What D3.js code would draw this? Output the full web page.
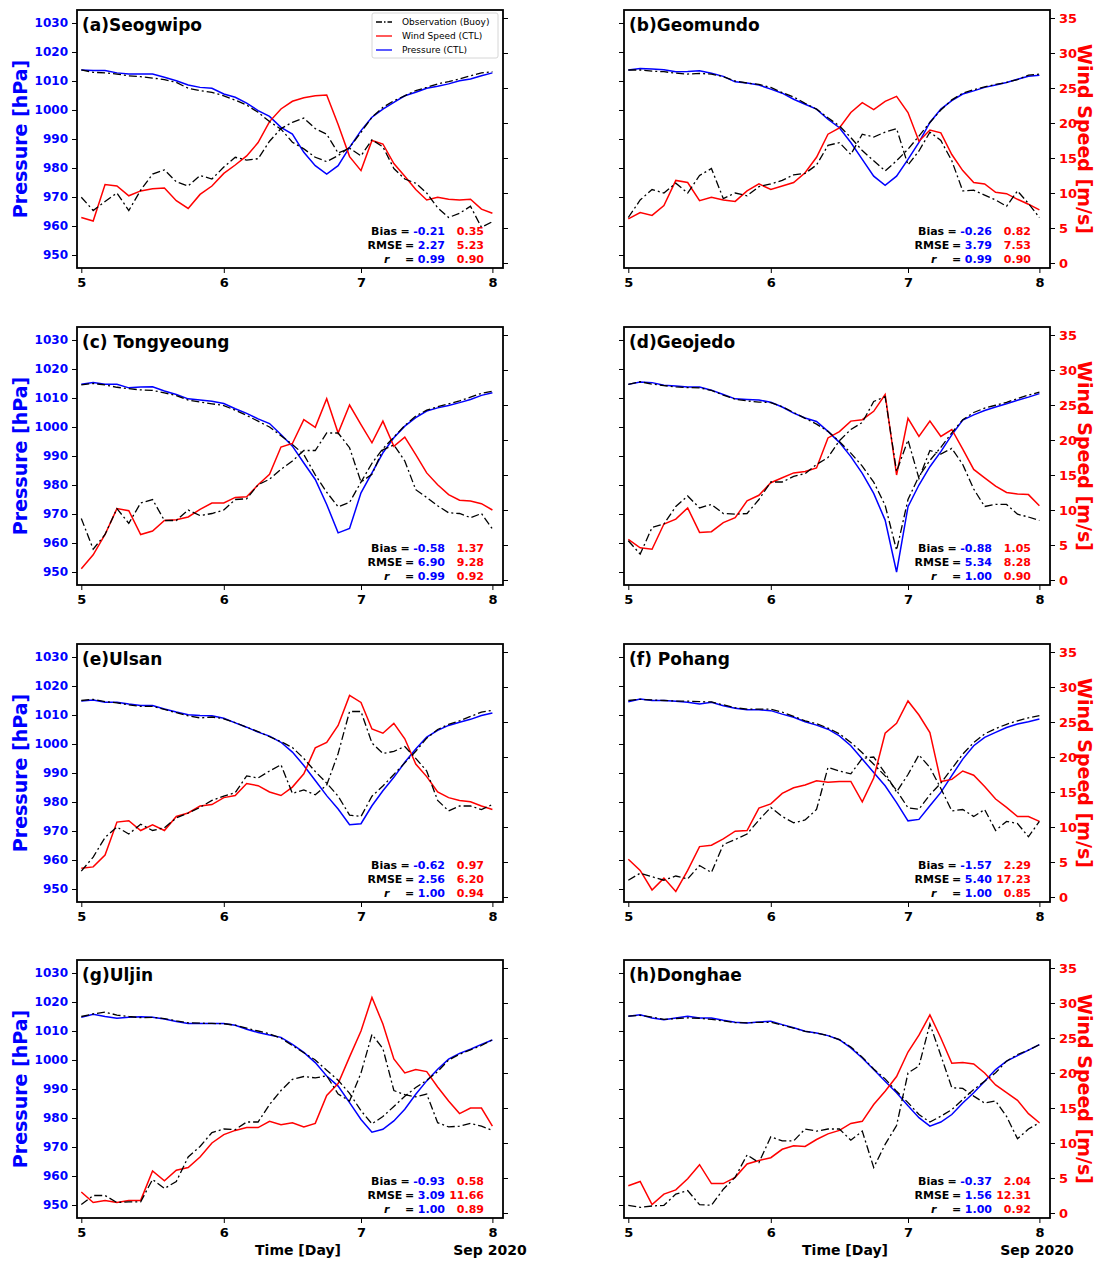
<!DOCTYPE html>
<html>
<head>
<meta charset="utf-8">
<script src="https://cdn.jsdelivr.net/npm/d3@7"></script>
<style>
  body { margin: 0; background: #fff; }
  svg { font-family: "DejaVu Sans", sans-serif; }
</style>
</head>
<body>
<svg id="chart" width="1106" height="1261"></svg>
<script>
// hours after 00 UTC 5 Sep 2020 (2-hourly samples)
const hours = [0, 2, 4, 6, 8, 10, 12, 14, 16, 18, 20, 22, 24, 26, 28, 30, 32, 34, 36,
  38, 40, 42, 44, 46, 48, 50, 52, 54, 56, 58, 60, 62, 64, 66, 68, 70, 72];

const stations = ["(a)Seogwipo", "(b)Geomundo", "(c) Tongyeoung", "(d)Geojedo",
  "(e)Ulsan", "(f) Pohang", "(g)Uljin", "(h)Donghae"];

const pressureTicks = [950, 960, 970, 980, 990, 1000, 1010, 1020, 1030];
const windTicks = [0, 5, 10, 15, 20, 25, 30, 35];
const dayTicks = [5, 6, 7, 8];

// model pressure (CTL), hPa
const pressureCTL = [
  [1013.8, 1013.6, 1013.6, 1012.8, 1012.4, 1012.4, 1012.4, 1011.3, 1010.1, 1008.6, 1007.8, 1007.5, 1005.5, 1004.4, 1002.4, 999.8, 997.8, 994.0, 991.7, 985.4, 980.8, 977.9, 980.8, 987.1, 992.9, 997.5, 1000.3, 1002.6, 1004.9, 1006.1, 1007.5, 1008.2, 1009.0, 1010.1, 1010.7, 1011.8, 1012.8],
  [1013.8, 1014.3, 1014.1, 1013.9, 1013.2, 1013.3, 1013.5, 1012.7, 1011.6, 1009.7, 1009.3, 1008.6, 1007.2, 1005.8, 1003.7, 1002.0, 1000.3, 996.8, 993.9, 988.8, 983.0, 977.2, 974.0, 977.2, 983.0, 988.8, 995.7, 1000.3, 1003.2, 1005.5, 1006.6, 1007.8, 1008.6, 1009.5, 1010.6, 1011.6, 1012.0],
  [1014.7, 1015.3, 1014.7, 1014.7, 1013.5, 1013.8, 1013.9, 1012.4, 1011.2, 1009.7, 1009.3, 1008.9, 1008.1, 1006.3, 1004.7, 1002.8, 1001.2, 997.4, 993.4, 987.6, 981.9, 973.3, 963.5, 965.0, 977.3, 984.2, 991.1, 996.3, 1000.3, 1003.2, 1005.5, 1006.6, 1007.4, 1008.4, 1009.5, 1010.9, 1011.8],
  [1014.7, 1015.5, 1015.3, 1014.4, 1014.1, 1013.8, 1013.8, 1012.7, 1011.2, 1009.7, 1009.5, 1009.3, 1008.5, 1006.9, 1004.8, 1003.1, 1001.9, 998.5, 994.7, 989.8, 984.0, 977.1, 967.9, 950.0, 972.5, 980.0, 986.3, 991.5, 997.3, 1002.4, 1004.2, 1005.7, 1006.9, 1008.0, 1009.2, 1010.3, 1011.5],
  [1014.8, 1015.2, 1014.4, 1014.4, 1013.8, 1013.3, 1013.3, 1012.1, 1011.0, 1010.1, 1009.8, 1009.7, 1008.9, 1007.3, 1005.8, 1004.1, 1002.7, 1000.6, 997.2, 992.6, 987.4, 982.2, 977.6, 972.2, 972.5, 978.7, 983.9, 988.5, 993.7, 998.3, 1002.4, 1004.7, 1006.4, 1007.5, 1008.5, 1009.8, 1010.7],
  [1014.6, 1015.5, 1015.0, 1015.0, 1014.7, 1014.4, 1013.8, 1014.4, 1013.2, 1012.3, 1011.8, 1011.8, 1011.5, 1010.3, 1009.2, 1007.7, 1006.5, 1005.1, 1002.8, 999.4, 994.8, 990.2, 985.6, 979.8, 973.5, 974.0, 978.7, 983.3, 989.1, 994.8, 999.4, 1002.3, 1004.0, 1005.7, 1006.9, 1007.7, 1008.6],
  [1014.7, 1015.8, 1015.0, 1014.4, 1014.7, 1014.9, 1014.7, 1014.1, 1013.3, 1012.6, 1012.6, 1012.6, 1012.6, 1012.0, 1010.6, 1009.5, 1008.6, 1007.8, 1005.4, 1002.6, 999.1, 994.5, 991.0, 985.3, 979.5, 975.1, 976.1, 979.0, 983.0, 988.2, 992.8, 996.8, 1000.3, 1002.3, 1003.7, 1005.4, 1006.9],
  [1015.1, 1015.6, 1014.5, 1013.9, 1014.5, 1015.1, 1014.5, 1014.5, 1013.7, 1013.0, 1012.8, 1013.1, 1013.4, 1012.2, 1011.1, 1009.9, 1009.3, 1008.4, 1007.0, 1004.2, 1000.7, 996.7, 992.7, 988.7, 984.2, 980.1, 977.2, 978.6, 981.2, 985.2, 988.7, 992.7, 996.7, 999.6, 1001.5, 1003.4, 1005.3]
];

// buoy pressure, hPa
const pressureObs = [
  [1013.8, 1013.0, 1012.8, 1012.4, 1011.8, 1011.5, 1011.0, 1010.5, 1009.5, 1007.5, 1006.7, 1006.1, 1004.9, 1003.4, 1001.7, 999.2, 996.0, 993.4, 988.9, 986.6, 983.7, 982.2, 984.3, 987.1, 992.3, 997.5, 1000.9, 1003.2, 1004.9, 1006.7, 1007.8, 1009.0, 1009.8, 1010.7, 1011.8, 1012.8, 1013.2],
  [1013.8, 1013.8, 1013.4, 1013.2, 1012.7, 1012.4, 1012.6, 1012.4, 1011.5, 1010.0, 1009.3, 1008.8, 1007.8, 1006.0, 1004.5, 1002.3, 1000.3, 997.3, 994.5, 990.5, 986.0, 982.5, 979.0, 982.5, 986.5, 991.0, 995.7, 1000.0, 1003.5, 1005.8, 1007.0, 1008.0, 1008.8, 1009.5, 1010.5, 1012.0, 1012.4],
  [1014.5, 1015.0, 1014.5, 1013.7, 1013.2, 1012.8, 1012.6, 1011.8, 1010.8, 1009.3, 1008.6, 1008.0, 1007.4, 1005.8, 1004.0, 1002.0, 1000.0, 997.0, 994.0, 990.5, 983.5, 977.5, 972.5, 974.0, 981.0, 987.5, 992.5, 996.5, 1000.5, 1003.8, 1005.8, 1007.0, 1008.0, 1009.0, 1010.3, 1011.6, 1012.3],
  [1014.7, 1015.6, 1014.8, 1014.3, 1013.8, 1013.6, 1013.5, 1012.6, 1011.0, 1009.6, 1009.0, 1008.6, 1008.4, 1007.0, 1005.0, 1003.0, 1001.0, 998.5, 995.0, 991.0, 986.5, 981.0, 973.0, 957.5, 975.0, 983.0, 988.5, 993.0, 998.0, 1002.5, 1005.0, 1006.5, 1007.5, 1008.5, 1009.8, 1011.0, 1012.0],
  [1015.0, 1015.4, 1014.6, 1014.2, 1013.5, 1013.0, 1013.0, 1011.9, 1010.8, 1009.7, 1009.0, 1009.3, 1008.7, 1007.4, 1005.8, 1004.3, 1002.5, 1000.8, 998.8, 995.0, 990.5, 986.5, 982.0, 975.5, 975.0, 982.0, 985.5, 989.5, 993.5, 997.5, 1002.0, 1005.0, 1006.8, 1008.0, 1009.5, 1011.0, 1011.6],
  [1015.0, 1015.4, 1015.2, 1015.0, 1014.8, 1014.8, 1014.6, 1014.5, 1013.5, 1012.5, 1012.0, 1012.0, 1012.0, 1011.0, 1009.5, 1008.0, 1007.0, 1005.5, 1003.5, 1000.5, 997.0, 993.0, 989.0, 984.0, 978.0, 977.5, 982.5, 986.5, 991.5, 996.5, 1000.5, 1003.5, 1005.3, 1006.8, 1008.0, 1009.0, 1009.8],
  [1015.0, 1015.9, 1016.5, 1015.5, 1015.0, 1014.6, 1014.7, 1014.3, 1013.5, 1012.8, 1012.7, 1012.6, 1012.5, 1012.0, 1011.0, 1010.0, 1009.0, 1007.5, 1005.0, 1002.5, 1000.0, 996.5, 993.0, 988.5, 982.5, 978.0, 980.5, 984.0, 987.5, 990.5, 993.0, 996.0, 1000.0, 1002.0, 1003.5, 1005.0, 1007.0],
  [1015.1, 1015.4, 1014.8, 1014.0, 1014.3, 1014.5, 1014.4, 1014.0, 1013.5, 1012.9, 1012.8, 1013.0, 1013.0, 1012.0, 1011.0, 1009.9, 1009.3, 1008.4, 1007.0, 1004.5, 1001.0, 996.9, 993.5, 989.2, 985.3, 981.2, 978.6, 980.6, 982.9, 986.4, 989.8, 992.7, 995.6, 999.6, 1001.9, 1003.4, 1005.3]
];

// model wind speed (CTL), m/s
const windCTL = [
  [6.5, 6.0, 11.2, 11.0, 9.6, 10.3, 10.6, 10.7, 8.9, 7.8, 9.8, 11.0, 12.8, 14.0, 15.3, 17.2, 20.2, 22.0, 23.1, 23.6, 23.9, 24.0, 19.8, 15.2, 13.2, 17.5, 17.0, 14.2, 12.4, 10.5, 9.0, 9.4, 9.1, 9.0, 9.1, 7.7, 7.1],
  [6.3, 7.2, 6.8, 8.2, 11.8, 11.5, 8.9, 9.4, 9.0, 8.8, 10.3, 11.3, 10.5, 11.0, 11.5, 12.9, 15.1, 18.4, 19.3, 21.5, 22.9, 21.9, 23.1, 23.8, 21.5, 17.4, 19.0, 18.6, 15.5, 13.2, 11.5, 11.3, 10.1, 9.9, 9.1, 8.4, 7.6],
  [1.6, 3.6, 6.5, 10.2, 9.9, 6.5, 7.0, 8.5, 8.6, 9.0, 10.1, 11.0, 11.0, 11.8, 11.9, 13.6, 15.1, 19.0, 19.5, 22.9, 21.8, 25.9, 21.0, 25.0, 22.2, 19.6, 22.7, 19.1, 20.4, 17.9, 15.3, 13.6, 12.2, 11.4, 11.3, 10.9, 10.0],
  [5.8, 4.6, 4.4, 8.0, 8.7, 10.3, 6.8, 6.9, 8.2, 8.9, 11.3, 12.1, 13.9, 14.6, 15.3, 15.5, 16.0, 20.3, 21.2, 22.7, 22.9, 24.1, 26.5, 15.0, 23.1, 20.5, 22.7, 20.5, 21.5, 18.7, 15.8, 14.6, 13.4, 12.5, 12.3, 12.2, 10.6],
  [4.1, 4.3, 6.0, 10.7, 10.9, 9.5, 10.3, 9.5, 11.5, 12.0, 13.0, 13.2, 14.2, 14.5, 16.2, 15.9, 15.0, 14.5, 15.7, 17.6, 21.3, 22.1, 24.5, 28.8, 27.8, 24.0, 23.4, 24.8, 22.6, 19.0, 17.2, 15.0, 14.2, 13.8, 13.6, 13.0, 12.5],
  [5.4, 3.8, 1.0, 2.7, 0.8, 3.8, 7.2, 7.4, 8.3, 9.4, 9.5, 12.7, 13.3, 14.8, 15.6, 16.0, 16.6, 16.4, 16.5, 16.5, 13.6, 17.0, 23.4, 24.8, 28.0, 26.0, 23.5, 16.5, 16.8, 18.0, 17.4, 15.8, 14.0, 12.8, 11.5, 11.5, 10.8],
  [3.0, 1.5, 1.8, 1.5, 1.8, 1.8, 6.0, 4.6, 6.1, 6.5, 8.0, 10.0, 11.2, 11.8, 12.2, 12.2, 13.1, 12.6, 12.9, 12.3, 12.8, 16.8, 18.5, 22.3, 26.0, 30.8, 27.0, 22.0, 20.0, 20.5, 20.2, 18.0, 16.0, 14.2, 15.0, 15.0, 12.4],
  [3.9, 4.5, 1.2, 2.7, 3.3, 4.9, 6.9, 4.2, 4.2, 5.1, 7.0, 7.5, 7.9, 9.1, 9.6, 9.5, 10.5, 11.3, 11.8, 12.8, 13.1, 15.5, 17.4, 19.5, 23.0, 25.4, 28.3, 25.0, 21.4, 21.5, 21.3, 20.0, 18.3, 17.2, 16.1, 14.2, 12.9]
];

// buoy wind speed, m/s
const windObs = [
  [9.4, 7.5, 8.8, 10.0, 7.5, 10.4, 12.7, 13.3, 11.6, 11.0, 12.5, 12.0, 13.7, 15.1, 14.7, 14.9, 17.4, 19.2, 20.1, 20.7, 19.2, 18.4, 15.7, 16.4, 15.3, 17.6, 16.6, 13.5, 12.0, 11.4, 10.0, 7.9, 6.5, 7.1, 8.1, 5.1, 5.9],
  [6.5, 9.0, 10.5, 10.0, 11.4, 10.0, 12.5, 13.5, 9.2, 10.0, 9.6, 10.9, 11.3, 11.8, 12.6, 12.8, 14.0, 16.8, 17.2, 15.5, 18.4, 18.0, 18.7, 19.2, 14.0, 16.0, 18.7, 17.5, 14.6, 10.3, 10.4, 9.7, 9.0, 8.1, 10.3, 8.5, 6.5],
  [8.8, 4.4, 6.5, 10.2, 8.1, 11.0, 11.5, 8.5, 8.5, 10.0, 9.2, 9.5, 10.0, 11.5, 11.6, 13.6, 14.4, 15.8, 17.0, 18.5, 18.5, 21.0, 21.0, 18.9, 14.0, 15.1, 18.6, 19.3, 17.0, 12.9, 11.8, 10.6, 9.6, 9.5, 8.9, 9.5, 7.3],
  [5.6, 3.7, 7.5, 8.0, 10.5, 12.0, 10.3, 10.8, 9.5, 9.4, 9.5, 11.5, 14.0, 14.0, 14.8, 15.2, 16.5, 17.5, 19.9, 21.5, 22.5, 25.5, 26.2, 15.5, 20.0, 14.5, 18.5, 18.0, 18.8, 16.5, 13.0, 10.5, 10.8, 10.8, 9.4, 9.0, 8.5],
  [3.7, 5.7, 8.5, 10.0, 9.0, 10.4, 9.5, 9.9, 11.3, 12.0, 12.8, 13.8, 14.4, 14.9, 17.3, 17.0, 18.0, 18.9, 14.8, 15.3, 14.6, 16.0, 20.5, 26.5, 26.5, 22.0, 20.5, 20.8, 21.5, 19.8, 18.0, 13.8, 12.3, 13.0, 13.0, 12.5, 13.2],
  [2.4, 3.4, 2.9, 2.4, 3.0, 2.6, 4.5, 3.5, 7.5, 8.2, 9.0, 11.0, 12.8, 11.5, 10.6, 11.0, 12.5, 18.5, 18.0, 17.6, 19.8, 20.0, 17.7, 15.0, 17.5, 20.3, 18.5, 15.5, 12.3, 12.5, 11.5, 12.5, 9.5, 10.8, 10.5, 8.6, 10.8],
  [1.2, 2.5, 2.5, 1.5, 1.6, 1.6, 4.8, 3.5, 4.5, 8.0, 9.5, 11.5, 12.0, 11.9, 13.0, 13.0, 15.5, 17.5, 19.1, 19.5, 19.3, 19.6, 17.0, 16.0, 20.0, 25.5, 23.5, 17.5, 16.9, 16.6, 17.0, 12.9, 12.3, 12.4, 12.8, 12.4, 11.8],
  [1.1, 0.8, 1.0, 1.1, 2.7, 3.2, 1.2, 1.1, 3.4, 5.1, 8.3, 7.2, 10.9, 10.3, 10.3, 12.0, 11.7, 12.0, 12.0, 10.4, 11.7, 6.5, 9.8, 12.5, 20.0, 21.0, 27.0, 22.5, 17.9, 17.8, 16.7, 15.7, 16.0, 13.8, 10.6, 12.0, 12.9]
];

// verification scores [pressure, wind]
const biasVals = [["-0.21", "0.35"], ["-0.26", "0.82"], ["-0.58", "1.37"], ["-0.88", "1.05"],
  ["-0.62", "0.97"], ["-1.57", "2.29"], ["-0.93", "0.58"], ["-0.37", "2.04"]];
const rmseVals = [["2.27", "5.23"], ["3.79", "7.53"], ["6.90", "9.28"], ["5.34", "8.28"],
  ["2.56", "6.20"], ["5.40", "17.23"], ["3.09", "11.66"], ["1.56", "12.31"]];
const rVals = [["0.99", "0.90"], ["0.99", "0.90"], ["0.99", "0.92"], ["1.00", "0.90"],
  ["1.00", "0.94"], ["1.00", "0.85"], ["1.00", "0.89"], ["1.00", "0.92"]];

const legendItems = [
  { label: "Observation (Buoy)", color: "black", dash: "6,2,1.5,2" },
  { label: "Wind Speed (CTL)", color: "red", dash: null },
  { label: "Pressure (CTL)", color: "blue", dash: null }
];

const svg = d3.select("#chart");
const colX = [77, 624];
const rowY = [10, 327, 644, 960];
const W = 426, H = 258;
const dash = "8,3,2,3";

stations.forEach((name, k) => {
  const col = k % 2, row = Math.floor(k / 2);
  const x0 = colX[col], y0 = rowY[row];
  const R = x0 + W;

  const x = d3.scaleLinear().domain([5, 6, 7, 8])
    .range([x0 + 4.3, x0 + 146.8, x0 + 284, x0 + 415.4]);
  const yP = d3.scaleLinear().domain([945.52, 1034.48]).range([y0 + H, y0]);
  const yW = d3.scaleLinear().domain([-0.714, 36.143]).range([y0 + H, y0]);

  const g = svg.append("g");
  const day = (i) => 5 + hours[i] / 24;

  const lineP = d3.line().x((d, i) => x(day(i))).y((d) => yP(d));
  const lineW = d3.line().x((d, i) => x(day(i))).y((d) => yW(d));

  g.append("path").datum(pressureCTL[k]).attr("d", lineP)
    .attr("fill", "none").attr("stroke", "blue").attr("stroke-width", 1.5);
  g.append("path").datum(windCTL[k]).attr("d", lineW)
    .attr("fill", "none").attr("stroke", "red").attr("stroke-width", 1.5);
  g.append("path").datum(pressureObs[k]).attr("d", lineP)
    .attr("fill", "none").attr("stroke", "black").attr("stroke-width", 1.3)
    .attr("stroke-dasharray", dash);
  g.append("path").datum(windObs[k]).attr("d", lineW)
    .attr("fill", "none").attr("stroke", "black").attr("stroke-width", 1.3)
    .attr("stroke-dasharray", dash);

  // axes
  const left = g.append("g").attr("transform", `translate(${x0},0)`)
    .call(d3.axisLeft(yP).tickValues(pressureTicks).tickSize(5).tickPadding(4)
      .tickFormat(col === 0 ? d3.format("d") : ""));
  left.select(".domain").remove();
  left.selectAll("text").attr("fill", "blue").style("font-size", "12px")
    .style("font-weight", "bold").style("font-family", "DejaVu Sans");

  const right = g.append("g").attr("transform", `translate(${R},0)`)
    .call(d3.axisRight(yW).tickValues(windTicks).tickSize(5).tickPadding(4)
      .tickFormat(col === 1 ? d3.format("d") : ""));
  right.select(".domain").remove();
  right.selectAll("text").attr("fill", "red").style("font-size", "13px")
    .style("font-weight", "bold").style("font-family", "DejaVu Sans");

  const bottom = g.append("g").attr("transform", `translate(0,${y0 + H})`)
    .call(d3.axisBottom(x).tickValues(dayTicks).tickSize(5).tickPadding(5)
      .tickFormat(d3.format("d")));
  bottom.select(".domain").remove();
  bottom.selectAll("text").attr("fill", "black").style("font-size", "13px")
    .style("font-weight", "bold").style("font-family", "DejaVu Sans");

  g.append("rect").attr("x", x0).attr("y", y0).attr("width", W).attr("height", H)
    .attr("fill", "none").attr("stroke", "black").attr("stroke-width", 1.8);

  // title
  g.append("text").attr("x", x0 + 5).attr("y", y0 + 20.5)
    .style("font-size", "17px").style("font-weight", "bold").text(name);

  // scores
  const rows = [
    { lab: "Bias", lx: R - 132, eq: R - 98, v: biasVals[k], italic: false },
    { lab: "RMSE", lx: R - 135.5, eq: R - 93.5, v: rmseVals[k], italic: false },
    { lab: "r", lx: R - 119, eq: R - 93.5, v: rVals[k], italic: true }
  ];
  rows.forEach((r, j) => {
    const by = y0 + 225 + j * 14;
    const t = g.append("g").style("font-size", "11px").style("font-weight", "bold");
    t.append("text").attr("x", r.lx).attr("y", by)
      .style("font-style", r.italic ? "italic" : "normal").text(r.lab);
    t.append("text").attr("x", r.eq).attr("y", by).attr("text-anchor", "middle").text("=");
    t.append("text").attr("x", R - 58).attr("y", by).attr("text-anchor", "end")
      .attr("fill", "blue").text(r.v[0]);
    t.append("text").attr("x", R - 19).attr("y", by).attr("text-anchor", "end")
      .attr("fill", "red").text(r.v[1]);
  });

  // axis titles
  if (col === 0) {
    g.append("text").attr("transform", `translate(27,${y0 + H / 2}) rotate(-90)`)
      .attr("text-anchor", "middle").attr("fill", "blue")
      .style("font-size", "19px").style("font-weight", "bold").text("Pressure [hPa]");
  } else {
    g.append("text").attr("transform", `translate(1078,${y0 + H / 2}) rotate(90)`)
      .attr("text-anchor", "middle").attr("fill", "red")
      .style("font-size", "19px").style("font-weight", "bold").text("Wind Speed [m/s]");
  }
  if (row === 3) {
    g.append("text").attr("x", x0 + 221).attr("y", y0 + H + 37)
      .attr("text-anchor", "middle").style("font-size", "14px")
      .style("font-weight", "bold").text("Time [Day]");
    g.append("text").attr("x", x0 + 413).attr("y", y0 + H + 37)
      .attr("text-anchor", "middle").style("font-size", "14px")
      .style("font-weight", "bold").text("Sep 2020");
  }

  // legend (first panel only)
  if (k === 0) {
    const lg = g.append("g");
    lg.append("rect").attr("x", R - 131).attr("y", y0 + 3).attr("width", 126)
      .attr("height", 45).attr("rx", 2).attr("fill", "white").attr("fill-opacity", 0.85)
      .attr("stroke", "#cccccc").attr("stroke-width", 0.8);
    legendItems.forEach((it, j) => {
      const ly = y0 + 12 + j * 14;
      lg.append("line").attr("x1", R - 127).attr("x2", R - 111)
        .attr("y1", ly).attr("y2", ly).attr("stroke", it.color).attr("stroke-width", 1.3)
        .attr("stroke-dasharray", it.dash);
      lg.append("text").attr("x", R - 101).attr("y", ly + 3.3)
        .style("font-size", "9px").text(it.label);
    });
  }
});
</script>
</body>
</html>
